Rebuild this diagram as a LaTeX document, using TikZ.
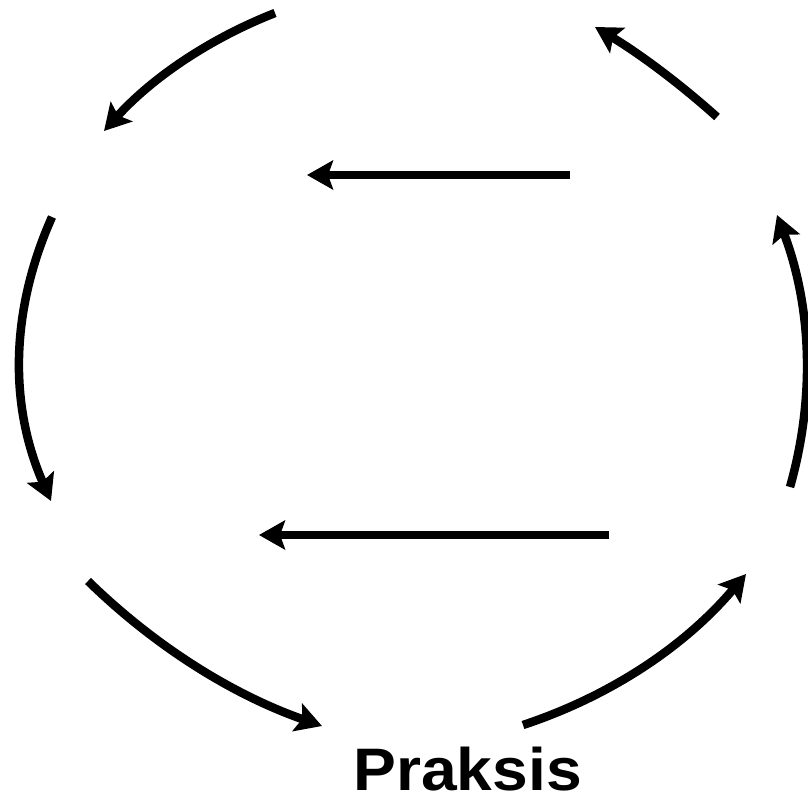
\documentclass[tikz,border=0pt]{standalone}
\usepackage{fontspec}
\newfontfamily\lab[FakeStretch=1.07]{Liberation Sans Bold}
\usetikzlibrary{arrows.meta}
\tikzset{
  cyc/.style={line width=8.5pt, -{Stealth[length=26pt,width=29pt,inset=5pt]}},
}
\begin{document}
\begin{tikzpicture}[x=1pt,y=-1pt]
\useasboundingbox (0,0) rectangle (808,800);
% endpoints
\coordinate (a1) at (275,13);  \coordinate (b1) at (104,131);
\coordinate (a2) at (717,117); \coordinate (b2) at (595,27);
\coordinate (a3) at (52,217);  \coordinate (b3) at (51,501);
\coordinate (a4) at (790,487); \coordinate (b4) at (777,215);
\coordinate (a5) at (88,581);  \coordinate (b5) at (322,726);
\coordinate (a6) at (523,725); \coordinate (b6) at (746,574);
\coordinate (a7) at (570,175); \coordinate (b7) at (307,175);
\coordinate (a8) at (609,535); \coordinate (b8) at (259,535);
% curved arrows
\draw[cyc] (a1) .. controls (208.7,39) and (151.7,78.3) .. (b1);
\draw[cyc] (a2) .. controls (679.3,83.1) and (638.6,53.1) .. (b2);
\draw[cyc] (a3) .. controls (9.7,311.7) and (9.3,406.3) .. (b3);
\draw[cyc] (a4) .. controls (815.7,396.3) and (811.3,305.7) .. (b4);
\draw[cyc] (a5) .. controls (155.3,646.7) and (233.3,695) .. (b5);
\draw[cyc] (a6) .. controls (611.5,695.7) and (685.8,645.4) .. (b6);
% straight arrows
\draw[cyc] (a7) -- (b7);
\draw[cyc] (a8) -- (b8);
\node[anchor=base, inner sep=0pt, font=\lab\fontsize{60}{60}\selectfont] (praksis) at (467.5,790) {Praksis};
\end{tikzpicture}
\end{document}
